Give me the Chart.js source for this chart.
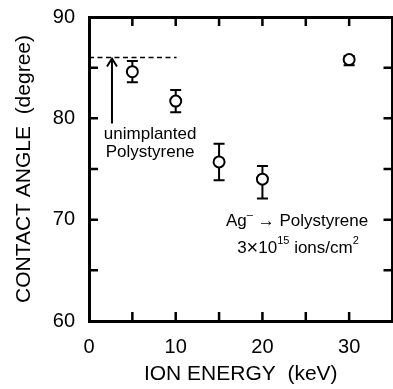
<!DOCTYPE html>
<html><head><meta charset="utf-8">
<script src="https://cdn.jsdelivr.net/npm/chart.js@4.4.1/dist/chart.umd.min.js"></script>
<style>html,body{margin:0;padding:0;overflow:hidden;background:#fff}canvas{display:block}</style>
</head><body><canvas id="c" width="400" height="389"></canvas>
<script>
// ---- data ----
const energies = [5, 10, 15, 20, 30];
const angles   = [84.6, 81.7, 75.7, 74.0, 85.8];
const errUp    = [1.05, 1.1, 1.8, 1.3, 0.35];
const errDown  = [1.05, 1.1, 1.8, 1.9, 0.55];
const xTickLabels = [0, 10, 20, 30];
const yTickLabels = [60, 70, 80, 90];
const unimplantedAngle = 86;
const refLineEnd = 10.1;
const arrowX = 2.65;
const arrowFrom = 79.5;

const FONT = '"Liberation Sans", Arial, Helvetica, sans-serif';

function drawRich(ctx, segs, cx, cy) {
  let total = 0;
  segs.forEach(s => { ctx.font = s.size + 'px ' + FONT; s.w = ctx.measureText(s.t).width; total += s.w; });
  let x = cx - total / 2;
  ctx.textAlign = 'left'; ctx.textBaseline = 'middle'; ctx.fillStyle = '#000';
  segs.forEach(s => { ctx.font = s.size + 'px ' + FONT; ctx.fillText(s.t, x, cy + (s.dy || 0)); x += s.w; });
}

const deco = {
  id: 'deco',
  beforeDatasetsDraw(chart) {
    const ctx = chart.ctx, xs = chart.scales.x, ys = chart.scales.y;
    ctx.save();
    ctx.strokeStyle = '#000'; ctx.lineWidth = 2;
    energies.forEach((e, i) => {
      const px = xs.getPixelForValue(e);
      const t = ys.getPixelForValue(angles[i] + errUp[i]);
      const b = ys.getPixelForValue(angles[i] - errDown[i]);
      ctx.beginPath();
      ctx.moveTo(px, t); ctx.lineTo(px, b);
      ctx.moveTo(px - 5.5, t); ctx.lineTo(px + 5.5, t);
      ctx.moveTo(px - 5.5, b); ctx.lineTo(px + 5.5, b);
      ctx.stroke();
    });
    ctx.restore();
  },
  afterDraw(chart) {
    const ctx = chart.ctx, xs = chart.scales.x, ys = chart.scales.y, a = chart.chartArea;
    ctx.save();
    ctx.strokeStyle = '#000'; ctx.lineWidth = 2.5;
    const L = 9;
    xs.ticks.forEach(t => {
      if (t.value <= xs.min || t.value >= xs.max) return;
      const px = xs.getPixelForValue(t.value);
      ctx.beginPath();
      ctx.moveTo(px, a.bottom); ctx.lineTo(px, a.bottom - L);
      ctx.moveTo(px, a.top); ctx.lineTo(px, a.top + L);
      ctx.stroke();
    });
    ys.ticks.forEach(t => {
      if (t.value <= ys.min || t.value >= ys.max) return;
      const py = ys.getPixelForValue(t.value);
      ctx.beginPath();
      ctx.moveTo(a.left, py); ctx.lineTo(a.left + L, py);
      ctx.moveTo(a.right, py); ctx.lineTo(a.right - L, py);
      ctx.stroke();
    });
    // arrow
    const ax = xs.getPixelForValue(arrowX);
    const tip = ys.getPixelForValue(unimplantedAngle);
    const bot = ys.getPixelForValue(arrowFrom);
    ctx.lineWidth = 2;
    ctx.beginPath();
    ctx.moveTo(ax, bot); ctx.lineTo(ax, tip + 1);
    ctx.moveTo(ax - 5, tip + 9); ctx.lineTo(ax, tip + 1); ctx.lineTo(ax + 5, tip + 9);
    ctx.stroke();
    // texts
    drawRich(ctx, [{t: 'unimplanted', size: 17}], xs.getPixelForValue(7.05), ys.getPixelForValue(78.45));
    drawRich(ctx, [{t: 'Polystyrene', size: 17}], xs.getPixelForValue(7.05), ys.getPixelForValue(76.6));
    drawRich(ctx, [{t: 'Ag', size: 17}, {t: '\u2013', size: 11, dy: -7}, {t: ' \u2192 Polystyrene', size: 17}],
      xs.getPixelForValue(24.0), ys.getPixelForValue(69.8));
    drawRich(ctx, [{t: '3', size: 17}, {t: '\u00D7', size: 20}, {t: '10', size: 17}, {t: '15', size: 11, dy: -7}, {t: ' ions/cm', size: 17}, {t: '2', size: 11, dy: -7}],
      xs.getPixelForValue(24.1), ys.getPixelForValue(67.2));
    ctx.restore();
  }
};

const tickFont = {size: 20, family: FONT};
const titleFont = {size: 21, family: FONT};
const border = {display: true, width: 3, color: '#000'};
const noGrid = {display: false, drawTicks: false};
function zeroPad(s) { s.paddingLeft = 0; s.paddingRight = 0; s.paddingTop = 0; s.paddingBottom = 0; }

new Chart(document.getElementById('c'), {
  data: {
    datasets: [
      {
        type: 'line',
        data: [{x: 0, y: unimplantedAngle}, {x: refLineEnd, y: unimplantedAngle}],
        borderColor: '#000', borderWidth: 1.5, borderDash: [5, 3.5], pointRadius: 0, fill: false
      },
      {
        type: 'scatter',
        data: energies.map((e, i) => ({x: e, y: angles[i]})),
        pointRadius: 5.5, pointBorderWidth: 2, pointBackgroundColor: '#fff', pointBorderColor: '#000'
      }
    ]
  },
  options: {
    responsive: false, animation: false, devicePixelRatio: 1,
    layout: {padding: 0},
    plugins: {legend: {display: false}, tooltip: {enabled: false}},
    scales: {
      x: {
        type: 'linear', position: 'bottom', min: 0, max: 35, display: true,
        grid: noGrid, border: border,
        ticks: {stepSize: 5, autoSkip: false, maxRotation: 0, padding: 14, color: '#000', font: tickFont,
          callback: v => xTickLabels.includes(v) ? String(v) : ''},
        title: {display: true, text: 'ION ENERGY  (keV)', color: '#000', font: titleFont, padding: {top: 0, bottom: 2}},
        afterFit(s) { s.height = 68; zeroPad(s); }
      },
      x2: {
        type: 'linear', position: 'top', min: 0, max: 35, display: true,
        grid: noGrid, border: border, ticks: {display: false},
        afterFit(s) { s.height = 17; zeroPad(s); }
      },
      y: {
        type: 'linear', position: 'left', min: 60, max: 90, display: true,
        grid: noGrid, border: border,
        ticks: {stepSize: 5, autoSkip: false, padding: 14, color: '#000', font: tickFont,
          callback: v => yTickLabels.includes(v) ? String(v) : ''},
        title: {display: true, text: 'CONTACT ANGLE  (degree)', color: '#000', font: titleFont, padding: {top: 12, bottom: 0}},
        afterFit(s) { s.width = 89; zeroPad(s); }
      },
      y2: {
        type: 'linear', position: 'right', min: 60, max: 90, display: true,
        grid: noGrid, border: border, ticks: {display: false},
        afterFit(s) { s.width = 6; zeroPad(s); }
      }
    }
  },
  plugins: [deco]
});
</script>
</body></html>
